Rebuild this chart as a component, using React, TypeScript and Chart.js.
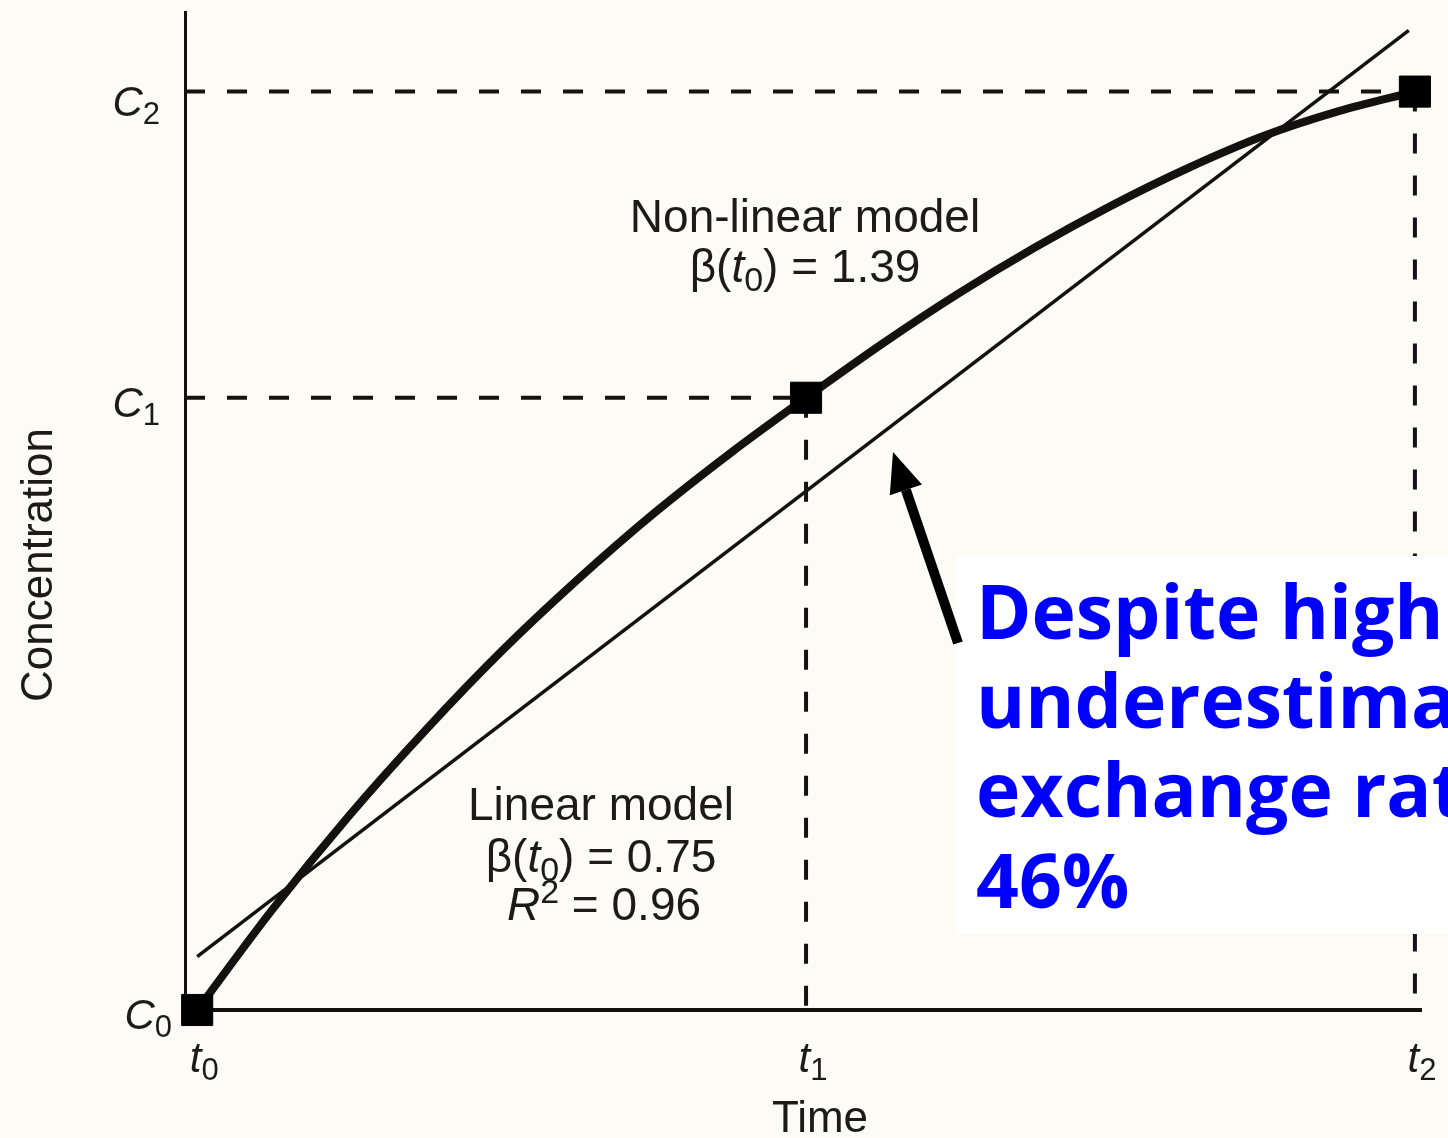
import React, { useEffect, useRef } from "react";
import { Chart, registerables } from "chart.js";

Chart.register(...registerables);

const W = 1448;
const H = 1138;

// Time axis (t0, t1, t2) and concentration axis (C0, C1, C2)
const timeTickValues = [0, 1, 2];
const timeTickSubs = ["0", "1", "2"];
const concTickValues = [0, 1, 1.5];
const concTickSubs = ["0", "1", "2"];

// Measured points (filled squares)
const measuredX = [0, 1, 2];
const measuredY = [0, 1, 1.5];

// Non-linear model curve (thick)
const curveX = [0, 0.125, 0.25, 0.375, 0.5, 0.625, 0.75, 0.875, 1, 1.125, 1.25, 1.375, 1.5, 1.625, 1.75, 1.875, 2];
const curveY = [0, 0.166, 0.318, 0.457, 0.586, 0.703, 0.811, 0.909, 1.0, 1.088, 1.17, 1.245, 1.313, 1.374, 1.427, 1.468, 1.5];

// Linear model fit (thin)
const linearX = [0, 1.99];
const linearY = [0.087, 1.6];

const xMin = -0.02;
const xMax = 2.01;
const yMin = 0;
const yMax = 1.63;

const INK = "#141110";
const TEXT = "#1d1a18";
const PAPER = "#fcfbf6";
const SANS = '"Liberation Sans", Arial, Helvetica, sans-serif';

const blueLines = ["Despite high", "underestimates", "exchange rate", "46%"];

type Run = { t: string; italic?: boolean; sub?: boolean; sup?: boolean };

function drawRuns(
  ctx: CanvasRenderingContext2D,
  runs: Run[],
  x: number,
  y: number,
  size: number,
  align: "left" | "center" | "right"
) {
  const small = Math.round(size * 0.74);
  const fontFor = (r: Run) =>
    `${r.italic ? "italic " : ""}${r.sub || r.sup ? small : size}px ${SANS}`;
  let total = 0;
  for (const r of runs) {
    ctx.font = fontFor(r);
    total += ctx.measureText(r.t).width;
  }
  let cx = align === "left" ? x : align === "center" ? x - total / 2 : x - total;
  for (const r of runs) {
    ctx.font = fontFor(r);
    const dy = r.sub ? size * 0.2 : r.sup ? -size * 0.36 : 0;
    ctx.fillText(r.t, cx, y + dy);
    cx += ctx.measureText(r.t).width;
  }
}

const paperPlugin = {
  id: "paper",
  beforeDraw(chart: any) {
    const ctx = chart.ctx as CanvasRenderingContext2D;
    ctx.save();
    ctx.fillStyle = PAPER;
    ctx.fillRect(0, 0, chart.width, chart.height);
    ctx.restore();
  },
};

const annotationPlugin = {
  id: "annotations",
  afterDraw(chart: any) {
    const ctx = chart.ctx as CanvasRenderingContext2D;
    const xs = chart.scales.x;
    const ys = chart.scales.y;
    ctx.save();
    ctx.fillStyle = TEXT;
    ctx.textAlign = "left";
    ctx.textBaseline = "alphabetic";

    // y tick labels C0, C1, C2
    concTickValues.forEach((v, i) => {
      const py = ys.getPixelForValue(v) + (i === 2 ? 24 : 19);
      const right = i === 0 ? 172 : 160;
      drawRuns(ctx, [{ t: "C", italic: true }, { t: concTickSubs[i], sub: true }], right, py, 42, "right");
    });

    // x tick labels t0, t1, t2
    timeTickValues.forEach((v, i) => {
      const px = xs.getPixelForValue(v) + 7;
      drawRuns(ctx, [{ t: "t", italic: true }, { t: timeTickSubs[i], sub: true }], px, xs.bottom + 62, 42, "center");
    });

    // axis titles
    ctx.font = `44px ${SANS}`;
    ctx.textAlign = "center";
    ctx.fillText("Time", 820, 1132);
    ctx.save();
    ctx.translate(52, 565);
    ctx.rotate(-Math.PI / 2);
    ctx.fillText("Concentration", 0, 0);
    ctx.restore();
    ctx.textAlign = "left";

    // model annotations
    drawRuns(ctx, [{ t: "Non-linear model" }], 805, 232, 46, "center");
    drawRuns(
      ctx,
      [{ t: "β(" }, { t: "t", italic: true }, { t: "0", sub: true }, { t: ") = 1.39" }],
      805,
      282,
      46,
      "center"
    );
    drawRuns(ctx, [{ t: "Linear model" }], 601, 820, 46, "center");
    drawRuns(
      ctx,
      [{ t: "β(" }, { t: "t", italic: true }, { t: "0", sub: true }, { t: ") = 0.75" }],
      601,
      872,
      46,
      "center"
    );
    drawRuns(ctx, [{ t: "R", italic: true }, { t: "2", sup: true }, { t: " = 0.96" }], 604, 920, 46, "center");

    // white call-out box with blue text
    ctx.fillStyle = "#ffffff";
    ctx.fillRect(956, 556, W - 956, 934 - 556);
    ctx.fillStyle = "#0000ff";
    ctx.font = `bold 75px "Open Sans", "Noto Sans", "DejaVu Sans", sans-serif`;
    const baselines = [639, 728, 817, 908];
    blueLines.forEach((line, i) => ctx.fillText(line, 976, baselines[i]));

    // arrow pointing at the linear model line
    const tail = { x: 958, y: 643 };
    const tip = { x: 893, y: 452 };
    const ang = Math.atan2(tip.y - tail.y, tip.x - tail.x);
    const headLen = 40;
    const headHalf = 17;
    const bx = tip.x - headLen * Math.cos(ang);
    const by = tip.y - headLen * Math.sin(ang);
    ctx.strokeStyle = "#000";
    ctx.lineWidth = 10;
    ctx.lineCap = "butt";
    ctx.beginPath();
    ctx.moveTo(tail.x, tail.y);
    ctx.lineTo(bx, by);
    ctx.stroke();
    ctx.fillStyle = "#000";
    ctx.beginPath();
    ctx.moveTo(tip.x, tip.y);
    ctx.lineTo(bx + headHalf * Math.sin(ang), by - headHalf * Math.cos(ang));
    ctx.lineTo(bx - headHalf * Math.sin(ang), by + headHalf * Math.cos(ang));
    ctx.closePath();
    ctx.fill();

    ctx.restore();
  },
};

export default function App() {
  const ref = useRef<HTMLCanvasElement | null>(null);

  useEffect(() => {
    const canvas = ref.current;
    if (!canvas) return;

    const measured = measuredX.map((x, i) => ({ x, y: measuredY[i] }));
    const curve = curveX.map((x, i) => ({ x, y: curveY[i] }));
    const linear = linearX.map((x, i) => ({ x, y: linearY[i] }));

    const guideStyle = {
      borderColor: INK,
      borderWidth: 4,
      borderDash: [20, 22],
      pointRadius: 0,
      fill: false,
      clip: false as any,
    };
    const guides: any[] = [];
    for (let i = 1; i < measuredX.length; i++) {
      guides.push({
        label: `C${i} guide`,
        data: [
          { x: xMin, y: measuredY[i] },
          { x: measuredX[i], y: measuredY[i] },
        ],
        ...guideStyle,
      });
      guides.push({
        label: `t${i} guide`,
        data: [
          { x: measuredX[i], y: measuredY[i] },
          { x: measuredX[i], y: 0 },
        ],
        ...guideStyle,
      });
    }

    const chart = new Chart(canvas, {
      type: "line",
      data: {
        datasets: [
          {
            label: "Measured",
            data: measured,
            showLine: false,
            pointStyle: "rect",
            pointRadius: 22,
            pointBackgroundColor: "#000",
            pointBorderColor: "#000",
            pointBorderWidth: 1,
            clip: false as any,
          },
          {
            label: "Non-linear model",
            data: curve,
            borderColor: INK,
            borderWidth: 8,
            pointRadius: 0,
            cubicInterpolationMode: "monotone",
            fill: false,
            clip: false as any,
          },
          {
            label: "Linear model",
            data: linear,
            borderColor: INK,
            borderWidth: 3.5,
            pointRadius: 0,
            fill: false,
            clip: false as any,
          },
          ...guides,
        ],
      },
      options: {
        responsive: false,
        animation: false,
        devicePixelRatio: 1,
        layout: {
          autoPadding: false,
          padding: { left: 185, right: W - 1421, top: 12, bottom: H - 1010 },
        },
        plugins: {
          legend: { display: false },
          tooltip: { enabled: false },
          title: { display: false },
        },
        scales: {
          x: {
            type: "linear",
            min: xMin,
            max: xMax,
            grid: { display: false, drawTicks: false },
            ticks: { display: false },
            border: { display: true, color: INK, width: 4 },
            title: { display: false },
          },
          y: {
            type: "linear",
            min: yMin,
            max: yMax,
            grid: { display: false, drawTicks: false },
            ticks: { display: false },
            border: { display: true, color: INK, width: 3 },
            title: { display: false },
          },
        },
      },
      plugins: [paperPlugin, annotationPlugin],
    } as any);

    return () => chart.destroy();
  }, []);

  return (
    <div style={{ position: "fixed", left: 0, top: 0, width: W, height: H }}>
      <canvas ref={ref} width={W} height={H} style={{ display: "block", width: W, height: H }} />
    </div>
  );
}
